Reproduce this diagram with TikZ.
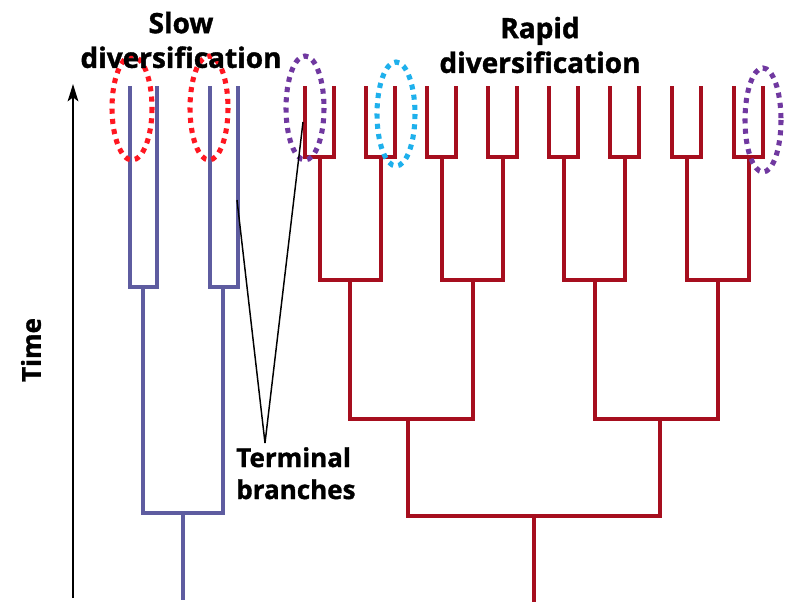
\documentclass[tikz,border=0pt]{standalone}
\usepackage{fontspec}
\setmainfont{Open Sans}[BoldFeatures={FakeBold=1.3}]
\usetikzlibrary{arrows.meta}
\definecolor{slowc}{RGB}{94,92,160}
\definecolor{fastc}{RGB}{166,14,30}
\definecolor{redring}{RGB}{255,22,32}
\definecolor{purplering}{RGB}{112,56,160}
\definecolor{cyanring}{RGB}{30,176,236}
\tikzset{
  x=0.75pt, y=-0.75pt,
  slowtree/.style={draw=slowc, line width=3pt, line join=miter, line cap=rect},
  fasttree/.style={draw=fastc, line width=3pt, line join=miter, line cap=rect},
  ring/.style={line width=3.8pt, dash pattern=on 3.8pt off 3.9pt},
  label/.style={font=\bfseries\fontsize{19.5}{26}\selectfont, inner sep=0pt, align=center},
  title/.style={font=\bfseries\fontsize{21}{27}\selectfont, inner sep=0pt, align=center},
  pointer/.style={draw=black, line width=1.1pt}
}
\begin{document}
\begin{tikzpicture}
\useasboundingbox (0,0) rectangle (802,610);
% ---- slow tree
\coordinate (s1) at (130,88);
\coordinate (s2) at (157,88);
\coordinate (s3) at (210,88);
\coordinate (s4) at (238,88);
\coordinate (sp1) at (143,287);
\coordinate (sp2) at (223,287);
\coordinate (sr) at (183,513);
\coordinate (sb) at (183,598);
\draw[slowtree] (s1) |- (sp1) -| (s2);
\draw[slowtree] (s3) |- (sp2) -| (s4);
\draw[slowtree] (sp1) |- (sr) -| (sp2);
\draw[slowtree] (sr) -- (sb);
% ---- rapid tree
\foreach \i/\x in {1/320,2/381,3/442,4/503,5/564,6/625,7/687,8/749}{
  \coordinate (p\i) at (\x,157);
  \coordinate (la\i) at (\x-15,88);
  \coordinate (lb\i) at (\x+14,88);
}
\coordinate (q1) at (350,280);
\coordinate (q2) at (473,280);
\coordinate (q3) at (595,280);
\coordinate (q4) at (718,280);
\coordinate (r1) at (408,419);
\coordinate (r2) at (660,419);
\coordinate (rt) at (534,516);
\coordinate (rb) at (534,600);
\foreach \i in {1,...,8}{
  \draw[fasttree] (la\i) |- (p\i) -| (lb\i);
}
\draw[fasttree] (p1) |- (q1) -| (p2);
\draw[fasttree] (p3) |- (q2) -| (p4);
\draw[fasttree] (p5) |- (q3) -| (p6);
\draw[fasttree] (p7) |- (q4) -| (p8);
\draw[fasttree] (q1) |- (r1) -| (q2);
\draw[fasttree] (q3) |- (r2) -| (q4);
\draw[fasttree] (r1) |- (rt) -| (r2);
\draw[fasttree] (rt) -- (rb);
% ---- dotted rings
\draw[ring, draw=redring] (132,108) ellipse [x radius=20, y radius=52];
\draw[ring, draw=redring] (209,108) ellipse [x radius=19, y radius=52];
\draw[ring, draw=purplering] (305,108) ellipse [x radius=19, y radius=52];
\draw[ring, draw=cyanring] (396,114) ellipse [x radius=19, y radius=52];
\draw[ring, draw=purplering] (763,120) ellipse [x radius=18, y radius=52];
% ---- time axis
\coordinate (ta) at (73,598);
\coordinate (tb) at (73,84);
\draw[line width=1.6pt, -{Stealth[length=13pt, width=8pt, inset=3pt]}] (ta) -- (tb);
\node[label, rotate=90] (time) at (31,350) {Time};
% ---- labels
\node[title] (slow) at (181,40) {Slow\\[-1pt]diversification};
\node[title] (rapid) at (540,45) {Rapid\\[-1pt]diversification};
\node[label, anchor=north west, align=left] (term) at (236,447) {Terminal\\[-2pt]branches};
% ---- pointers
\coordinate (meet) at (265,443);
\coordinate (tip1) at (237,200);
\coordinate (tip2) at (303,122);
\draw[pointer] (meet) -- (tip1);
\draw[pointer] (meet) -- (tip2);
\end{tikzpicture}
\end{document}
